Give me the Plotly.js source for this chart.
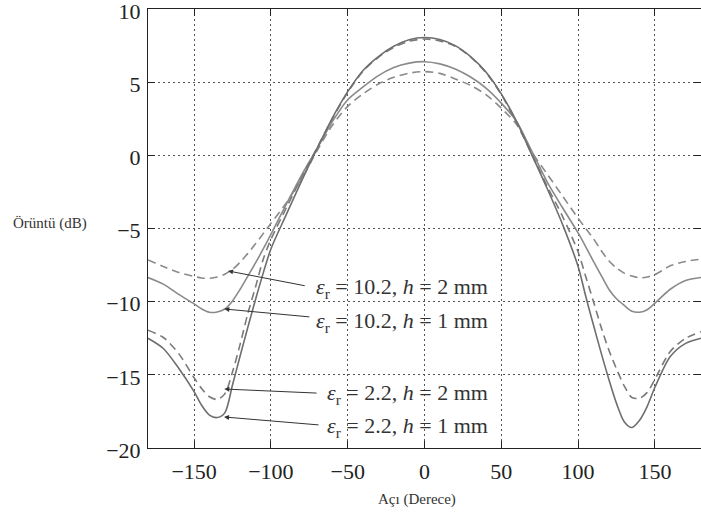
<!DOCTYPE html>
<html>
<head>
<meta charset="utf-8">
<script src="https://cdn.plot.ly/plotly-3.0.1.min.js"></script>
<style>
html,body{margin:0;padding:0;background:#fff;}
#chart{width:701px;height:516px;}
</style>
</head>
<body>
<div id="chart"></div>
<script>
// Angle (degrees)
const angles = [-180,-170,-160,-150,-145,-140,-135,-130,-125,-120,-115,-110,-105,-100,-90,-80,-70,-60,-50,-40,-30,-20,-10,0,10,20,30,40,50,60,70,80,90,100,105,110,115,120,125,130,135,140,145,150,160,170,180];

// eps_r = 10.2, h = 2 mm (dashed)
const er102_h2 = [-7.15,-7.6,-8.0,-8.28,-8.38,-8.4,-8.32,-8.12,-7.8,-7.3,-6.7,-6.05,-5.35,-4.65,-3.25,-1.6,0.3,2.05,3.35,4.2,4.88,5.33,5.62,5.72,5.6,5.22,4.78,4.15,3.22,2.1,0.2,-1.3,-2.8,-4.3,-5.0,-5.7,-6.5,-7.2,-7.7,-8.05,-8.25,-8.37,-8.32,-8.15,-7.55,-7.25,-7.1];

// eps_r = 10.2, h = 1 mm (solid)
const er102_h1 = [-8.35,-8.8,-9.5,-10.15,-10.5,-10.72,-10.7,-10.5,-9.95,-9.15,-8.25,-7.35,-6.4,-5.4,-3.35,-1.35,0.45,2.3,3.8,4.68,5.45,6.0,6.3,6.4,6.25,5.9,5.35,4.6,3.57,2.3,0.25,-1.85,-3.6,-5.3,-6.25,-7.25,-8.2,-9.15,-9.8,-10.25,-10.65,-10.72,-10.55,-10.1,-9.15,-8.55,-8.35];

// eps_r = 2.2, h = 2 mm (dashed)
const er22_h2 = [-11.95,-12.45,-13.55,-15.2,-15.95,-16.5,-16.68,-16.3,-14.8,-12.9,-10.8,-9.0,-7.1,-5.75,-3.6,-1.5,0.5,2.5,4.3,5.75,6.7,7.38,7.8,7.95,7.82,7.45,6.72,5.65,4.15,2.2,0.05,-2.15,-4.2,-6.6,-8.3,-10.0,-11.75,-13.3,-14.6,-15.75,-16.55,-16.6,-16.2,-15.3,-13.4,-12.5,-12.05];

// eps_r = 2.2, h = 1 mm (solid)
const er22_h1 = [-12.5,-13.2,-14.55,-16.15,-17.1,-17.75,-17.92,-17.6,-15.7,-13.7,-11.75,-9.85,-8.05,-6.4,-4.05,-1.75,0.45,2.55,4.35,5.8,6.75,7.45,7.9,8.05,7.92,7.5,6.75,5.7,4.2,2.3,0.0,-2.3,-4.75,-7.6,-9.65,-11.6,-13.5,-15.3,-16.95,-18.2,-18.6,-18.1,-17.15,-15.85,-13.75,-12.85,-12.5];

const seriesLabels = [
  "<i>ε</i><sub>r</sub> = 10.2, <i>h</i> = 2 mm",
  "<i>ε</i><sub>r</sub> = 10.2, <i>h</i> = 1 mm",
  "<i>ε</i><sub>r</sub> = 2.2, <i>h</i> = 2 mm",
  "<i>ε</i><sub>r</sub> = 2.2, <i>h</i> = 1 mm"
];
// arrow tip (on curve) and tail (near label)
const arrowTipX = [-127.9,-130.3,-130.3,-130.5];
const arrowTipY = [-7.9,-10.5,-15.97,-17.88];
const arrowTailX = [-77,-74,-69.3,-68];
const arrowTailY = [-8.93,-11.05,-16.25,-18.43];
const labelX = [42.5,42.5,42.5,42.5];
const labelY = [-9.09,-11.37,-16.34,-18.55];

const xTicks = [-150,-100,-50,0,50,100,150];
const yTicks = [-20,-15,-10,-5,0,5,10];

const serif = "Liberation Serif";

const lineStyles = [
  {color:'#8a8a8a', width:1.6, dash:'8px,5px'},
  {color:'#8a8a8a', width:1.6, dash:'solid'},
  {color:'#7a7a7a', width:1.6, dash:'8px,5px'},
  {color:'#6e6e6e', width:1.6, dash:'solid'}
];
const ySeries = [er102_h2, er102_h1, er22_h2, er22_h1];

const traces = ySeries.map((ys,i)=>({
  x: angles, y: ys, type:'scatter', mode:'lines',
  line: Object.assign({shape:'spline', smoothing:0.8}, lineStyles[i]),
  hoverinfo:'skip', showlegend:false
}));

const annotations = [];
for (let i=0;i<4;i++){
  annotations.push({
    x: arrowTipX[i], y: arrowTipY[i], xref:'x', yref:'y',
    ax: arrowTailX[i], ay: arrowTailY[i], axref:'x', ayref:'y',
    text:'', showarrow:true, arrowhead:2, arrowsize:1, arrowwidth:1,
    arrowcolor:'#333', standoff:0, startstandoff:0
  });
  annotations.push({
    x: labelX[i], y: labelY[i], xref:'x', yref:'y',
    text: seriesLabels[i], showarrow:false, xanchor:'right', yanchor:'middle',
    font:{family:serif, size:22, color:'#333'}
  });
}
annotations.push({
  x:-0.177, y:0.5125, xref:'paper', yref:'paper', text:'Örüntü (dB)',
  showarrow:false, xanchor:'center', yanchor:'middle',
  font:{family:serif, size:15, color:'#333'}
});
annotations.push({
  x:0.4864, y:-0.118, xref:'paper', yref:'paper', text:'Açı (Derece)',
  showarrow:false, xanchor:'center', yanchor:'middle',
  font:{family:serif, size:15, color:'#333'}
});

const axisCommon = {
  showline:true, linecolor:'#222', linewidth:1, mirror:'ticks',
  ticks:'inside', ticklen:7, tickcolor:'#222', tickwidth:1,
  showgrid:true, gridcolor:'#555', gridwidth:1, griddash:'2px,3px',
  zeroline:false, ticklabeloverflow:'allow',
  tickfont:{family:serif, size:22, color:'#222'}
};

const layout = {
  width:701, height:516,
  margin:{l:148, r:0, t:9, b:68},
  paper_bgcolor:'#fff', plot_bgcolor:'#fff',
  font:{family:serif},
  xaxis: Object.assign({}, axisCommon, {range:[-180,180], tickvals:xTicks, ticklabelstandoff:4}),
  yaxis: Object.assign({}, axisCommon, {range:[-20,10], tickvals:yTicks, ticklabelstandoff:2, ticklabelshift:2}),
  annotations: annotations
};

Plotly.newPlot('chart', traces, layout, {staticPlot:true, displayModeBar:false});
</script>
</body>
</html>
